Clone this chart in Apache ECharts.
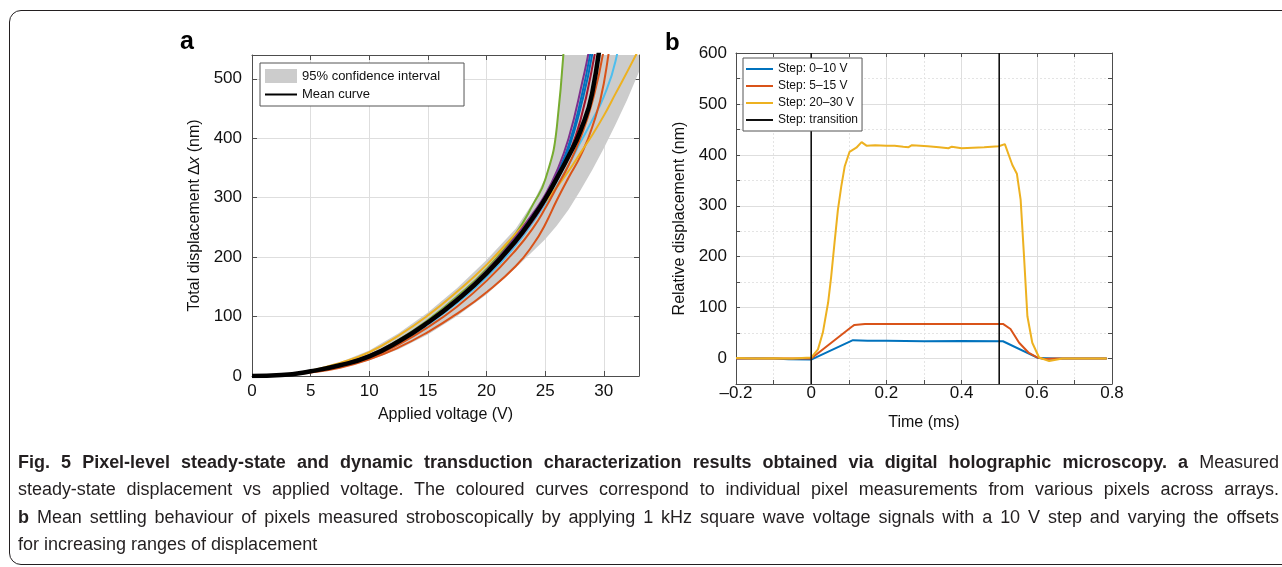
<!DOCTYPE html>
<html><head><meta charset="utf-8">
<script src="https://cdn.jsdelivr.net/npm/echarts@6/dist/echarts.min.js"></script>
<style>
html,body{margin:0;padding:0;background:#fff;}
#wrap{position:relative;width:1282px;height:567px;overflow:hidden;background:#fff;}
#chart{position:absolute;left:0;top:0;width:1282px;height:567px;}
#frame{position:absolute;left:9px;top:10px;width:1300px;height:555px;border:1.6px solid #231f20;border-radius:12px;pointer-events:none;box-sizing:border-box;}
#cap{position:absolute;left:18px;top:449px;width:1261px;font-family:'Liberation Sans',Arial,sans-serif;font-size:18px;line-height:27.3px;color:#231f20;}
.ln{text-align:justify;text-align-last:justify;white-space:nowrap;}
.last{text-align:left;text-align-last:left;}
</style></head><body>
<div id="wrap">
<div id="chart"></div>
<div id="frame"></div>
<div id="cap">
<div class="ln"><span><b>Fig. 5 Pixel-level steady-state and dynamic transduction characterization results obtained via digital holographic microscopy. a</b> Measured</span></div>
<div class="ln"><span>steady-state displacement vs applied voltage. The coloured curves correspond to individual pixel measurements from various pixels across arrays.</span></div>
<div class="ln"><span><b>b</b> Mean settling behaviour of pixels measured stroboscopically by applying 1 kHz square wave voltage signals with a 10 V step and varying the offsets</span></div>
<div class="ln last"><span>for increasing ranges of displacement</span></div>
</div>
</div>
<script>
// fit caption lines: shrink letter spacing if a line is wider than the column
(function () {
  const target = 1261;
  document.querySelectorAll('#cap .ln').forEach(function (ln) {
    const sp = ln.firstElementChild;
    const w = sp.getBoundingClientRect().width;
    if (w > target - 4) {
      const n = sp.textContent.length;
      ln.style.letterSpacing = ((target - 4 - w) / n).toFixed(3) + 'px';
    }
  });
})();

// ---------- Panel a data ----------
const volts      = [0, 2.5, 5, 7.5, 10, 12.5, 15, 17.5, 20, 22.5, 24, 25, 26, 27, 28, 29, 30, 31, 32, 33];
const meanCurve  = [0, 1.5, 8, 18, 33, 58, 90, 128, 173, 228, 268, 298, 333, 370, 412, 475, 615, 800, 1000, 1200];
const pixGreen   = [0, 1.5, 8, 19, 35, 61, 94, 134, 180, 240, 290, 330, 420, 690, 1000, 1300, 1600, 1900, 2200, 2500];
const pixPurple  = [0, 1.5, 8, 19, 35, 60, 92, 131, 177, 235, 275, 305, 345, 400, 480, 580, 750, 950, 1150, 1350];
const pixBlue1   = [0, 1.5, 8, 18, 34, 59, 91, 129, 175, 231, 272, 302, 340, 388, 462, 560, 700, 900, 1100, 1300];
const pixBlue2   = [0, 1.5, 8, 18, 34, 59, 90, 128, 174, 229, 270, 300, 337, 382, 450, 540, 680, 880, 1080, 1280];
const pixDarkRed = [0, 1.5, 7.5, 18, 33, 57, 88, 126, 170, 224, 263, 294, 330, 372, 430, 518, 640, 850, 1050, 1250];
const pixOrange1 = [0, 1.2, 7, 16, 30, 53, 82, 117, 160, 212, 250, 282, 318, 355, 400, 460, 550, 700, 900, 1100];
const pixCyan    = [0, 1.3, 7, 17, 31, 55, 86, 123, 166, 220, 260, 290, 320, 355, 393, 430, 470, 530, 640, 800];
const pixOrange2 = [0, 1, 6, 14, 28, 48, 74, 105, 141, 185, 222, 255, 296, 334, 370, 418, 492, 640, 800, 1000];
const pixYellow  = [0, 2, 9, 22, 40, 68, 102, 142, 187, 240, 272, 293, 318, 345, 375, 405, 438, 475, 512, 550];
const pixCurves = [
  {d: pixGreen, c: '#77AC30'}, {d: pixCyan, c: '#4DBEEE'}, {d: pixOrange2, c: '#D95319'},
  {d: pixYellow, c: '#EDB120'}, {d: pixOrange1, c: '#D95319'}, {d: pixDarkRed, c: '#A2142F'},
  {d: pixBlue2, c: '#0072BD'}, {d: pixBlue1, c: '#0072BD'}, {d: pixPurple, c: '#7E2F8E'}
];
// 95% confidence band: upper edge (left), top edge point, lower edge (right)
const bandUpper = [[0,0],[2.5,2.2],[5,9.5],[7.5,23],[10,43],[12.5,72],[15,107],[17.5,148],[20,195],[22.5,248],[24,293],[25,333],[25.5,362],[26,418],[26.3,480],[26.5,540]];
const bandTop   = [[33,540]];
const bandLower = [[0,0],[2.5,1],[5,6],[7.5,14],[10,26],[12.5,45],[15,70],[17.5,101],[20,137],[22.5,182],[25,230],[26,253],[27,280],[28,312],[29,346],[30,383],[31,423],[32,465],[33,512]];

// ---------- Panel b data ----------
const step0to10 = [[-0.2,0],[-0.1,0],[-0.06,-1.5],[0,-2],[0.111,36],[0.15,35],[0.2,35],[0.3,34],[0.4,34.5],[0.51,34],[0.604,1],[0.65,0],[0.7,0],[0.786,0]];
const step5to15 = [[-0.2,0],[-0.1,0],[0,0],[0.107,62],[0.115,66],[0.143,68],[0.2,68],[0.3,68],[0.4,68],[0.51,68],[0.53,58],[0.553,31],[0.579,11],[0.602,2],[0.62,-1],[0.65,0],[0.786,0]];
const step20to30 = [[-0.2,1],[-0.15,0],[-0.1,0.5],[-0.05,0],[0,2],[0.005,4],[0.018,18],[0.031,51],[0.045,110],[0.053,160],[0.062,227],[0.071,292],[0.08,338],[0.089,377],[0.102,406],[0.12,414],[0.134,425],[0.147,418],[0.17,419],[0.2,418],[0.222,418],[0.245,416],[0.259,415],[0.268,419],[0.29,418],[0.31,417],[0.34,415],[0.365,413],[0.374,416],[0.4,413],[0.43,414],[0.46,415],[0.499,417],[0.515,421],[0.535,380],[0.547,363],[0.557,312],[0.566,201],[0.575,83],[0.588,31],[0.606,2],[0.633,-5],[0.668,0],[0.7,0],[0.786,0]];
const transitionTimes = [0, 0.5];
const tickA_x = 5, tickA_y = 100;

const FONT = "'Liberation Sans', Arial, Helvetica, sans-serif";
const AX = '#4d4d4d', GRID = '#dedede', MINOR = '#e4e4e4';
const zip = (xs, ys) => xs.map((x, i) => [x, ys[i]]);

const chart = echarts.init(document.getElementById('chart'));

const series = [];
series.push({
  type: 'custom', name: '95% confidence interval', coordinateSystem: 'cartesian2d',
  xAxisIndex: 0, yAxisIndex: 0, data: [[0, 0]], clip: true, silent: true, z: 1,
  itemStyle: {color: '#cccccc'},
  renderItem: function (params, api) {
    const poly = bandUpper.concat(bandTop, bandLower.slice().reverse());
    return {type: 'polygon', shape: {points: poly.map(p => api.coord(p))}, style: {fill: '#cccccc'}};
  }
});
pixCurves.forEach((p, i) => series.push({
  type: 'line', name: 'pixel' + i, xAxisIndex: 0, yAxisIndex: 0, data: zip(volts, p.d),
  symbol: 'none', smooth: 0.5, clip: true, silent: true, z: 2,
  lineStyle: {color: p.c, width: 2}, itemStyle: {color: p.c}
}));
series.push({
  type: 'line', name: 'Mean curve', xAxisIndex: 0, yAxisIndex: 0, data: zip(volts, meanCurve),
  symbol: 'none', smooth: 0.5, clip: true, silent: true, z: 3,
  lineStyle: {color: '#000', width: 4.5}, itemStyle: {color: '#000'}
});
const bLines = [
  {name: 'Step: 0–10 V', d: step0to10, c: '#0072BD'},
  {name: 'Step: 5–15 V', d: step5to15, c: '#D95319'},
  {name: 'Step: 20–30 V', d: step20to30, c: '#EDB120'}
];
bLines.forEach(s => series.push({
  type: 'line', name: s.name, xAxisIndex: 2, yAxisIndex: 2, data: s.d, symbol: 'none',
  clip: true, silent: true, z: 2, lineStyle: {color: s.c, width: 2}, itemStyle: {color: s.c}
}));
transitionTimes.forEach(t => series.push({
  type: 'line', name: 'Step: transition', xAxisIndex: 2, yAxisIndex: 2, data: [[t, -50], [t, 600]],
  symbol: 'none', clip: true, silent: true, z: 2, lineStyle: {color: '#111', width: 1.6}, itemStyle: {color: '#111'}
}));

const tickLbl = {color: '#111', fontSize: 17, fontFamily: FONT};
const nameStyle = {color: '#111', fontSize: 16, fontFamily: FONT};
const noLine = {show: false};

const option = {
  animation: false,
  backgroundColor: '#fff',
  grid: [
    {left: 252, top: 55, width: 387, height: 321, containLabel: false, outerBoundsMode: 'none'},
    {left: 736, top: 53, width: 376, height: 331, containLabel: false, outerBoundsMode: 'none'}
  ],
  xAxis: [
    {gridIndex: 0, type: 'value', position: 'bottom', min: 0, max: 33, interval: tickA_x,
     axisLine: {show: true, onZero: false, lineStyle: {color: AX, width: 1}},
     axisTick: {show: true, inside: true, length: 5, lineStyle: {color: AX}},
     axisLabel: Object.assign({margin: 7, showMaxLabel: false}, tickLbl),
     splitLine: {show: true, lineStyle: {color: GRID, width: 1}},
     name: 'Applied voltage (V)', nameLocation: 'middle', nameGap: 31, nameTextStyle: nameStyle},
    {gridIndex: 0, type: 'value', position: 'top', min: 0, max: 33, interval: tickA_x,
     axisLine: {show: true, onZero: false, lineStyle: {color: AX, width: 1}},
     axisTick: {show: true, inside: true, length: 5, lineStyle: {color: AX}},
     axisLabel: {show: false}, splitLine: noLine},
    {gridIndex: 1, type: 'value', position: 'bottom', min: -0.2, max: 0.8, interval: 0.1,
     axisLine: {show: true, onZero: false, lineStyle: {color: AX, width: 1}},
     axisTick: {show: true, inside: true, length: 4, lineStyle: {color: AX}},
     axisLabel: {show: false},
     splitLine: {show: true, lineStyle: {color: MINOR, width: 1, type: [2, 2]}}},
    {gridIndex: 1, type: 'value', position: 'bottom', min: -0.2, max: 0.8, interval: 0.2,
     axisLine: {show: false}, axisTick: {show: false},
     axisLabel: Object.assign({margin: 1, formatter: v => v < 0 ? '–' + Math.abs(v) : String(v)}, tickLbl),
     splitLine: {show: true, lineStyle: {color: GRID, width: 1}},
     name: 'Time (ms)', nameLocation: 'middle', nameGap: 31, nameTextStyle: nameStyle},
    {gridIndex: 1, type: 'value', position: 'top', min: -0.2, max: 0.8, interval: 0.1,
     axisLine: {show: true, onZero: false, lineStyle: {color: AX, width: 1}},
     axisTick: {show: true, inside: true, length: 4, lineStyle: {color: AX}},
     axisLabel: {show: false}, splitLine: noLine}
  ],
  yAxis: [
    {gridIndex: 0, type: 'value', position: 'left', min: 0, max: 540, interval: tickA_y,
     axisLine: {show: true, onZero: false, lineStyle: {color: AX, width: 1}},
     axisTick: {show: true, inside: true, length: 5, lineStyle: {color: AX}},
     axisLabel: Object.assign({margin: 10, showMaxLabel: false}, tickLbl),
     splitLine: {show: true, lineStyle: {color: GRID, width: 1}},
     name: 'Total displacement {i|∆x} (nm)', nameLocation: 'middle', nameGap: 49,
     nameTextStyle: Object.assign({rich: {i: {fontStyle: 'italic', fontSize: 16, fontFamily: FONT, color: '#111'}}}, nameStyle)},
    {gridIndex: 0, type: 'value', position: 'right', min: 0, max: 540, interval: tickA_y,
     axisLine: {show: true, onZero: false, lineStyle: {color: AX, width: 1}},
     axisTick: {show: true, inside: true, length: 5, lineStyle: {color: AX}},
     axisLabel: {show: false}, splitLine: noLine},
    {gridIndex: 1, type: 'value', position: 'left', min: -50, max: 600, interval: 50,
     axisLine: {show: true, onZero: false, lineStyle: {color: AX, width: 1}},
     axisTick: {show: true, inside: true, length: 4, lineStyle: {color: AX}},
     axisLabel: Object.assign({margin: 9, formatter: v => (v % 100 === 0 ? String(v) : '')}, tickLbl),
     splitLine: {show: true, lineStyle: {color: MINOR, width: 1, type: [2, 2]}},
     name: 'Relative displacement (nm)', nameLocation: 'middle', nameGap: 48, nameTextStyle: nameStyle},
    {gridIndex: 1, type: 'value', position: 'left', min: -50, max: 600, interval: 50,
     axisLine: {show: false}, axisTick: {show: false}, axisLabel: {show: false},
     splitLine: {show: true, lineStyle: {color: ['rgba(0,0,0,0)', GRID], width: 1}}},
    {gridIndex: 1, type: 'value', position: 'right', min: -50, max: 600, interval: 50,
     axisLine: {show: true, onZero: false, lineStyle: {color: AX, width: 1}},
     axisTick: {show: true, inside: true, length: 4, lineStyle: {color: AX}},
     axisLabel: {show: false}, splitLine: noLine}
  ],
  legend: [
    {left: 260, top: 63, z: 20, orient: 'vertical', backgroundColor: '#fff', borderColor: '#555', borderWidth: 1,
     padding: [6, 24, 5, 4], itemWidth: 32, itemHeight: 14, itemGap: 5, selectedMode: false,
     textStyle: {fontSize: 13, fontFamily: FONT, color: '#111'},
     data: [{name: '95% confidence interval', icon: 'rect'}, {name: 'Mean curve', itemStyle: {opacity: 0}}]},
    {left: 743, top: 58, z: 20, orient: 'vertical', backgroundColor: '#fff', borderColor: '#555', borderWidth: 1,
     padding: [5, 4, 5, 2], itemWidth: 27, itemHeight: 12, itemGap: 5, selectedMode: false,
     textStyle: {fontSize: 12, fontFamily: FONT, color: '#111'},
     data: bLines.map(s => ({name: s.name, itemStyle: {opacity: 0}})).concat([{name: 'Step: transition', itemStyle: {opacity: 0}}])}
  ],
  graphic: [
    {type: 'text', left: 180, top: 30, style: {text: 'a', font: 'bold 25px ' + FONT, fill: '#000'}},
    {type: 'text', left: 665, top: 31, style: {text: 'b', font: 'bold 24px ' + FONT, fill: '#000'}}
  ],
  series: series
};
chart.setOption(option);
</script>
</body></html>
